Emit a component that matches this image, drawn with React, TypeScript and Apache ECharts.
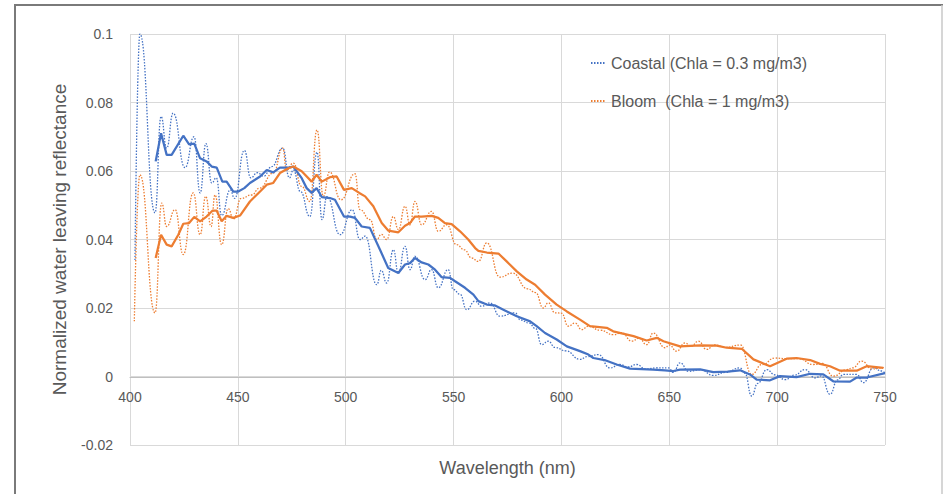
import React, { useEffect, useRef } from "react";
import * as echarts from "echarts";

const coastalRawWl = [402.3, 404.6, 411.6, 414.4, 417, 420, 425.5, 429.7, 432.5, 435.2, 437.9, 440, 442.5, 446.5, 448.5, 453, 456, 459, 462, 465.7, 470.8, 473.9, 475.7, 479, 483.4, 486.7, 489, 491.3, 497.4, 503, 506.6, 509, 514.4, 516.5, 519, 522.1, 524.4, 527.5, 529.8, 532.1, 536.8, 539.8, 542.9, 547.5, 549.9, 553, 556.1, 559.9, 563, 566.9, 571.5, 578.5, 581, 585, 588, 590.8, 593.9, 597, 602, 608.6, 612, 617.1, 622.5, 627, 631, 634.9, 639, 644, 649.6, 651.9, 655, 659, 664.3, 670.4, 676, 682.8, 685, 688.2, 691, 695.2, 699, 703.7, 708, 712.9, 717.6, 720.5, 724.5, 728, 730.7, 736.9, 740, 744.6, 748.5, 750];
const coastalRawVal = [0.034, 0.1, 0.0478, 0.0759, 0.0667, 0.0769, 0.061, 0.07, 0.0536, 0.068, 0.0565, 0.058, 0.047, 0.0545, 0.052, 0.066, 0.058, 0.0595, 0.0585, 0.0613, 0.0667, 0.058, 0.0603, 0.054, 0.0467, 0.0655, 0.0458, 0.0525, 0.0414, 0.0487, 0.04, 0.041, 0.0268, 0.031, 0.0273, 0.037, 0.0302, 0.038, 0.0312, 0.0351, 0.0283, 0.0312, 0.0259, 0.0312, 0.0254, 0.024, 0.0195, 0.022, 0.0205, 0.0215, 0.0176, 0.0186, 0.0165, 0.0156, 0.014, 0.0093, 0.0103, 0.0085, 0.0075, 0.005, 0.0058, 0.0064, 0.0025, 0.0035, 0.0028, 0.0035, 0.0022, 0.0025, 0.0025, 0.0012, 0.004, 0.0015, 0.002, 0.0003, 0.0012, 0.0025, 0.001, -0.0057, -0.002, 0.002, 0.0005, -0.0009, 0.0004, 0.002, -0.0004, 0.0002, -0.0052, -0.001, 0.0006, 0.0006, -0.0018, 0.0025, 0.0016, 0.001];

const bloomRawWl = [402, 404.6, 411.6, 414.7, 417, 420.9, 424.7, 429.3, 432.5, 435.1, 437.6, 439.4, 442.5, 445.5, 448, 451.5, 456.4, 460, 466.4, 470.8, 472.6, 475.7, 479.6, 483.4, 486.7, 489.6, 492.5, 497.8, 504.3, 506.6, 511.3, 514.4, 516.5, 519, 522.1, 524.4, 527.5, 529.8, 532.1, 535.2, 539.8, 542.9, 546.8, 551.4, 555, 558.4, 561.5, 565.4, 571.5, 577.3, 584.3, 588, 591.6, 593.9, 597, 600, 603.2, 606.3, 609.4, 612.5, 618, 624.1, 628, 632.6, 636, 639.5, 642.6, 648, 650, 653.4, 657.3, 660, 663.5, 667.3, 671, 676, 683, 688.2, 693, 699, 704, 710, 716.8, 721, 726, 732.3, 735, 739.2, 744, 748.5, 750];
const bloomRawVal = [0.0161, 0.0589, 0.0186, 0.0506, 0.0438, 0.0487, 0.0356, 0.0536, 0.0414, 0.0526, 0.0438, 0.053, 0.0385, 0.049, 0.046, 0.052, 0.053, 0.055, 0.0594, 0.0667, 0.0603, 0.0623, 0.0555, 0.0511, 0.072, 0.0526, 0.0597, 0.0516, 0.0592, 0.0487, 0.0458, 0.04, 0.0415, 0.04, 0.0467, 0.0429, 0.0497, 0.0443, 0.0511, 0.0443, 0.0482, 0.0424, 0.0443, 0.0385, 0.037, 0.0346, 0.0336, 0.039, 0.029, 0.0302, 0.0256, 0.0245, 0.02, 0.0215, 0.0186, 0.0185, 0.0147, 0.0156, 0.0137, 0.0147, 0.0135, 0.0122, 0.0128, 0.0103, 0.0112, 0.0093, 0.0127, 0.0084, 0.0092, 0.0074, 0.0098, 0.0088, 0.0103, 0.0079, 0.0092, 0.0085, 0.0092, 0.0006, 0.0035, 0.0054, 0.0052, 0.0052, 0.0035, 0.0038, 0.0001, 0.002, 0.0025, 0.0045, 0.0022, 0.0025, 0.0028];

// Moving-average (solid) spectra
const coastalAvgWl = [411.9, 414.4, 417, 419.3, 424.7, 427.4, 429.8, 432.5, 435.5, 437.9, 440.2, 442.8, 444.8, 447.9, 450.2, 453, 455.6, 460.3, 463.4, 466.4, 469.5, 473.4, 475.7, 479.6, 481.9, 484.2, 486.5, 488.9, 492.7, 495, 499.2, 502, 504.3, 507.4, 511.2, 515.9, 519.7, 524.4, 527.5, 529.8, 532.1, 535.2, 538.3, 541.4, 544.5, 548.4, 550.7, 555.3, 559.2, 561.5, 565.4, 569, 573.1, 579.3, 585.5, 588.5, 592.4, 597.8, 602.5, 608.6, 612.5, 614.8, 620, 625.6, 631.8, 642.6, 648, 651.9, 655, 664.3, 670.4, 677, 682.8, 687.4, 690.5, 696.7, 701.3, 709, 715.3, 721.4, 726, 733.8, 736.9, 741.5, 750];
const coastalAvgVal = [0.0628, 0.071, 0.0647, 0.0647, 0.0703, 0.0678, 0.068, 0.0637, 0.0628, 0.0613, 0.061, 0.0569, 0.0569, 0.054, 0.054, 0.055, 0.0565, 0.0584, 0.0603, 0.0596, 0.061, 0.061, 0.0613, 0.0579, 0.055, 0.0536, 0.055, 0.0524, 0.0521, 0.0516, 0.0467, 0.0467, 0.0463, 0.0438, 0.0434, 0.037, 0.0317, 0.0302, 0.0327, 0.0331, 0.0346, 0.0333, 0.0327, 0.0312, 0.029, 0.0288, 0.0278, 0.0259, 0.0239, 0.022, 0.021, 0.0208, 0.0195, 0.0176, 0.0161, 0.0147, 0.0127, 0.0108, 0.0088, 0.0074, 0.0064, 0.0054, 0.0048, 0.0035, 0.0023, 0.002, 0.0018, 0.0016, 0.002, 0.0021, 0.0013, 0.0014, 0.0018, 0.0006, -0.0009, -0.0011, 0.0001, -0.0002, 0.0008, 0.0006, -0.0014, -0.0015, -0.0003, -0.0003, 0.001];

const bloomAvgWl = [411.9, 414.4, 417, 419.3, 422.4, 424.7, 427.4, 429.8, 432.5, 435.5, 438.2, 440.2, 442.5, 444.8, 447.9, 451, 455.6, 460.3, 463.4, 466.4, 469.5, 473.4, 475.7, 479.6, 484.2, 486.5, 488.9, 492.7, 495.8, 499.2, 502.8, 506.3, 509, 512.8, 516.7, 519.7, 524.4, 527.5, 529.8, 532.1, 535.2, 539.8, 542.9, 546, 549.1, 553, 556.8, 560, 561.5, 565.4, 570.8, 574.6, 579.3, 583.9, 587.8, 592.4, 597.8, 602.5, 608.6, 613.2, 621, 624, 633.4, 639.5, 644.2, 647.3, 655, 664.3, 672, 676.6, 683.6, 689, 696.7, 704.4, 709, 715.3, 719.9, 724.5, 729.2, 736.9, 741.5, 749.2];
const bloomAvgVal = [0.0346, 0.0414, 0.0385, 0.038, 0.0414, 0.0446, 0.0448, 0.0466, 0.0453, 0.0467, 0.0484, 0.0484, 0.0453, 0.0469, 0.0463, 0.047, 0.0511, 0.054, 0.056, 0.0565, 0.0594, 0.0608, 0.0613, 0.0599, 0.0569, 0.0589, 0.0569, 0.0582, 0.0584, 0.0545, 0.055, 0.0536, 0.0526, 0.0497, 0.0448, 0.0426, 0.0421, 0.044, 0.0448, 0.0467, 0.0467, 0.0469, 0.0463, 0.0448, 0.0445, 0.0424, 0.04, 0.0375, 0.0367, 0.0362, 0.0359, 0.0336, 0.0307, 0.0283, 0.0268, 0.0239, 0.021, 0.019, 0.0166, 0.0147, 0.0142, 0.0132, 0.0118, 0.0105, 0.0113, 0.0103, 0.0088, 0.0091, 0.009, 0.0084, 0.0081, 0.005, 0.003, 0.0052, 0.0054, 0.0048, 0.0037, 0.003, 0.0017, 0.0017, 0.003, 0.0025];

const legendNames = ["Coastal (Chla = 0.3 mg/m3)", "Bloom  (Chla = 1 mg/m3)"];
const xTitle = "Wavelength (nm)";
const yTitle = "Normalized water leaving reflectance";

const BLUE = "#4472C4";
const ORANGE = "#ED7D31";
const TEXT = "#595959";
const FONT = "'Liberation Sans', Arial, sans-serif";

const pairs = (xs: number[], ys: number[]) => xs.map((x, i) => [x, ys[i]]);

export default function App() {
  const ref = useRef<HTMLDivElement>(null);
  useEffect(() => {
    if (!ref.current) return;
    const chart = echarts.init(ref.current, null, { renderer: "svg" });
    chart.setOption({
      animation: false,
      backgroundColor: "#ffffff",
      textStyle: { fontFamily: FONT },
      grid: { left: 130, right: 59, top: 34, bottom: 49, containLabel: false, outerBoundsMode: "none" },
      legend: {
        data: legendNames,
        orient: "vertical",
        left: 585,
        top: 50,
        itemWidth: 15,
        itemHeight: 18,
        itemGap: 22,
        itemStyle: { opacity: 0 },
        textStyle: { color: TEXT, fontSize: 16, fontFamily: FONT },
      },
      xAxis: {
        type: "value",
        min: 400,
        max: 750,
        interval: 50,
        offset: -68,
        name: xTitle,
        nameLocation: "middle",
        nameGap: 82,
        nameTextStyle: { color: TEXT, fontSize: 18, fontFamily: FONT },
        axisLine: { show: true, onZero: false, lineStyle: { color: "#bfbfbf", width: 1 } },
        axisTick: { show: false },
        axisLabel: { color: TEXT, fontSize: 14, margin: 13, fontFamily: FONT },
        splitLine: { show: true, lineStyle: { color: "#d9d9d9", width: 1 } },
      },
      yAxis: {
        type: "value",
        min: -0.02,
        max: 0.1,
        interval: 0.02,
        name: yTitle,
        nameLocation: "middle",
        nameGap: 61,
        nameRotate: 90,
        nameTextStyle: { color: TEXT, fontSize: 19, fontFamily: FONT },
        axisLine: { show: false },
        axisTick: { show: false },
        axisLabel: {
          color: TEXT,
          fontSize: 14,
          margin: 17,
          fontFamily: FONT,
          formatter: (v: number) => String(Number(v.toFixed(3))),
        },
        splitLine: { show: true, lineStyle: { color: "#d9d9d9", width: 1 } },
      },
      series: [
        {
          name: legendNames[0],
          type: "line",
          data: pairs(coastalRawWl, coastalRawVal),
          symbol: "none",
          smooth: 0.5,
          smoothMonotone: "x",
          lineStyle: { color: BLUE, width: 1.3, type: [1.5, 1.5] },
          itemStyle: { color: BLUE },
          z: 2,
        },
        {
          name: legendNames[1],
          type: "line",
          data: pairs(bloomRawWl, bloomRawVal),
          symbol: "none",
          smooth: 0.5,
          smoothMonotone: "x",
          lineStyle: { color: ORANGE, width: 1.3, type: [1.5, 1.5] },
          itemStyle: { color: ORANGE },
          z: 2,
        },
        {
          name: "Coastal average",
          type: "line",
          data: pairs(coastalAvgWl, coastalAvgVal),
          symbol: "none",
          lineStyle: { color: BLUE, width: 2.25 },
          itemStyle: { color: BLUE },
          z: 3,
        },
        {
          name: "Bloom average",
          type: "line",
          data: pairs(bloomAvgWl, bloomAvgVal),
          symbol: "none",
          lineStyle: { color: ORANGE, width: 2.25 },
          itemStyle: { color: ORANGE },
          z: 3,
        },
      ],
      graphic: [
        { type: "line", shape: { x1: 14, y1: 5, x2: 943, y2: 5 }, style: { stroke: "#7a7a7a", lineWidth: 2 } },
        { type: "line", shape: { x1: 15, y1: 4, x2: 15, y2: 494 }, style: { stroke: "#7a7a7a", lineWidth: 2 } },
        { type: "line", shape: { x1: 942, y1: 5, x2: 942, y2: 494 }, style: { stroke: "#c8c8c8", lineWidth: 1.5 } },
      ],
    });
    return () => chart.dispose();
  }, []);
  return (
    <div
      ref={ref}
      style={{ position: "fixed", left: 0, top: 0, width: 944, height: 494 }}
    />
  );
}
